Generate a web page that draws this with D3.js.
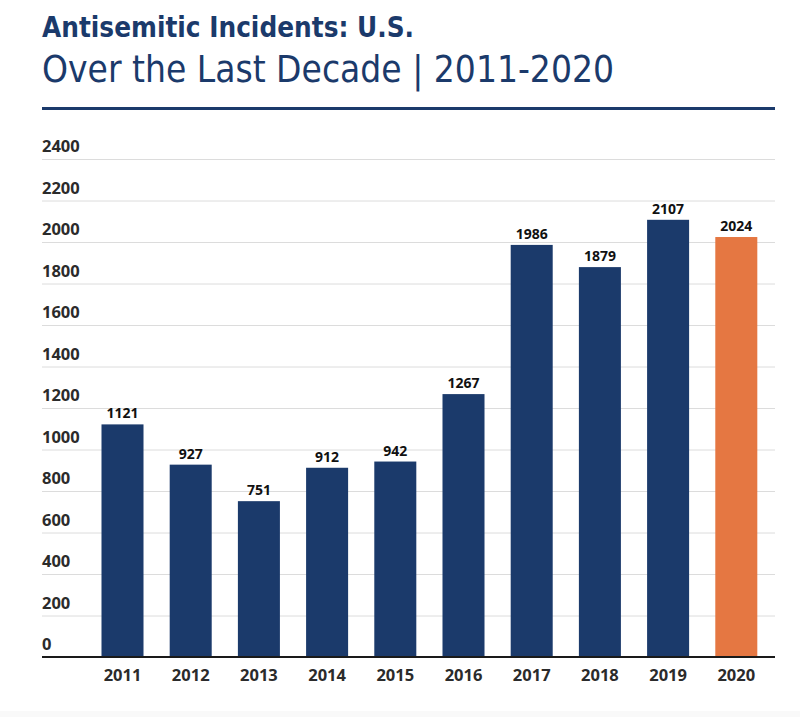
<!DOCTYPE html>
<html><head><meta charset="utf-8">
<script src="https://cdn.jsdelivr.net/npm/d3@7"></script>
<style>body{margin:0;background:#fff}svg{display:block}</style>
</head><body><svg id="c" width="800" height="717"></svg>
<script>
const years = ["2011","2012","2013","2014","2015","2016","2017","2018","2019","2020"];
const incidents = [1121, 927, 751, 912, 942, 1267, 1986, 1879, 2107, 2024];
const yTicks = [0,200,400,600,800,1000,1200,1400,1600,1800,2000,2200,2400];
const highlightYear = "2020";
const titleText = "Antisemitic Incidents: U.S.";
const subtitleText = "Over the Last Decade | 2011-2020";

const navy = "#1b3a6b", orange = "#e57742";
const svg = d3.select("#c");

svg.append("rect").attr("x",0).attr("y",711).attr("width",800).attr("height",6).attr("fill","#f9f9f9");

svg.append("text").attr("x",42).attr("y",37).text(titleText)
  .attr("font-family","'Liberation Sans Narrow','DejaVu Sans Condensed','Open Sans',sans-serif")
  .attr("font-weight",700).attr("font-size",28).attr("fill",navy)
  .attr("textLength",372).attr("lengthAdjust","spacingAndGlyphs");
svg.append("text").attr("x",42).attr("y",82).text(subtitleText)
  .attr("font-family","'Liberation Sans Narrow','DejaVu Sans Condensed','Open Sans',sans-serif")
  .attr("font-weight",400).attr("font-size",38).attr("fill",navy)
  .attr("textLength",572).attr("lengthAdjust","spacingAndGlyphs");
svg.append("rect").attr("x",42).attr("y",107).attr("width",733).attr("height",3).attr("fill",navy);

const y = d3.scaleLinear().domain([0,2400]).range([657,159]);
const x = d3.scaleBand().domain(years).range([88.4,770.4]).paddingInner(0.384).paddingOuter(0.192);

const g = svg.append("g");
g.selectAll("line.grid").data(yTicks.filter(d=>d>0)).join("line")
  .attr("x1",42).attr("x2",775).attr("y1",d=>y(d)+0.5).attr("y2",d=>y(d)+0.5)
  .attr("stroke","#dcdcdc").attr("stroke-width",1);
g.selectAll("text.yt").data(yTicks).join("text")
  .attr("x",42).attr("y",d=>y(d)-7).text(d=>d)
  .attr("font-family","'Open Sans',sans-serif").attr("font-weight",700)
  .attr("font-size",16.5).attr("fill","#2b2b2b");

g.selectAll("rect.bar").data(years).join("rect")
  .attr("x",d=>x(d)).attr("width",x.bandwidth())
  .attr("y",(d,i)=>y(incidents[i])).attr("height",(d,i)=>y(0)-y(incidents[i]))
  .attr("fill",d=>d===highlightYear?orange:navy);

g.selectAll("text.val").data(years).join("text")
  .attr("x",d=>x(d)+x.bandwidth()/2).attr("y",(d,i)=>y(incidents[i])-6)
  .attr("text-anchor","middle").text((d,i)=>incidents[i])
  .attr("font-family","'Open Sans',sans-serif").attr("font-weight",700)
  .attr("font-size",14).attr("fill","#111");

svg.append("line").attr("x1",42).attr("x2",775).attr("y1",657).attr("y2",657)
  .attr("stroke","#1a1a1a").attr("stroke-width",2);

const xAxis = d3.axisBottom(x).tickSize(0).tickPadding(0);
const xa = svg.append("g").attr("transform","translate(0,669)").call(xAxis);
xa.select(".domain").remove();
xa.selectAll("text").attr("font-family","'Open Sans',sans-serif").attr("font-weight",700)
  .attr("font-size",16.5).attr("fill","#2b2b2b").attr("dy","0.71em");
</script></body></html>
